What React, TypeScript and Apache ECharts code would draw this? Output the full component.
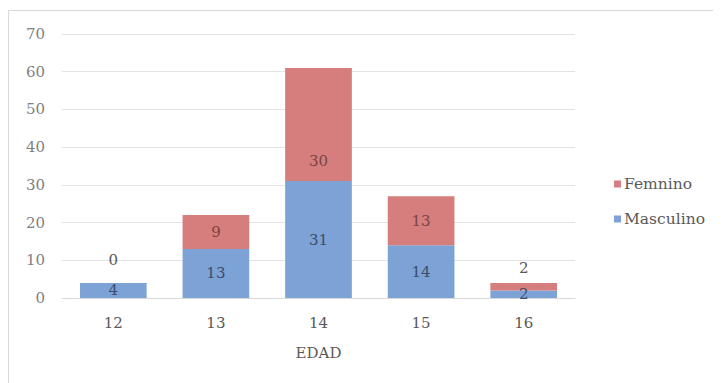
import React, { useEffect, useRef } from "react";
import * as echarts from "echarts";

const categories = ["12", "13", "14", "15", "16"];
const masculino = [4, 13, 31, 14, 2];
const femenino = [0, 9, 30, 13, 2];
const yTicks = [0, 10, 20, 30, 40, 50, 60, 70];

const FONT = "DejaVu Serif";

export default function App() {
  const ref = useRef<HTMLDivElement>(null);
  useEffect(() => {
    if (!ref.current) return;
    const chart = echarts.init(ref.current, null, { renderer: "svg" });
    const femData = femenino.map((v, i) => {
      if (i === 0) return { value: v, label: { position: "top", distance: 15, color: "#595959" } };
      if (i === 2) return { value: v, label: { offset: [0, 36] } };
      if (i === 4) return { value: v, label: { position: "top", distance: 7, color: "#595959" } };
      return v;
    });
    chart.setOption({
      animation: false,
      graphic: [
        {
          type: "rect",
          shape: { x: 0.5, y: 2.5, width: 800, height: 500 },
          style: { fill: "none", stroke: "#d9d9d9", lineWidth: 1 },
          silent: true,
        },
      ],
      grid: { left: 54, right: 146, top: 26, bottom: 85 },
      legend: {
        orient: "vertical",
        left: 601,
        top: 163,
        itemWidth: 7,
        itemHeight: 7,
        itemGap: 19,
        icon: "rect",
        data: ["Femnino", "Masculino"],
        textStyle: { fontFamily: FONT, fontSize: 15.5, color: "#595959", padding: [0, 0, 0, -2] },
      },
      xAxis: {
        type: "category",
        data: categories,
        name: "EDAD",
        nameLocation: "middle",
        nameGap: 47,
        nameTextStyle: { fontFamily: FONT, fontSize: 15, color: "#595959" },
        axisLine: { lineStyle: { color: "#d9d9d9" } },
        axisTick: { show: false },
        axisLabel: { fontFamily: FONT, fontSize: 15, color: "#595959", margin: 17 },
      },
      yAxis: {
        type: "value",
        min: yTicks[0],
        max: yTicks[yTicks.length - 1],
        interval: 10,
        axisLine: { show: false },
        axisTick: { show: false },
        splitLine: { lineStyle: { color: "#e3e3e3" } },
        axisLabel: { fontFamily: FONT, fontSize: 15, color: "#7f7f7f", margin: 17 },
      },
      series: [
        {
          name: "Masculino",
          type: "bar",
          stack: "total",
          data: masculino,
          barWidth: "65%",
          itemStyle: { color: "#7da3d6" },
          label: {
            show: true,
            position: "inside",
            fontFamily: FONT,
            fontSize: 15,
            color: "#3a4d6b",
          },
        },
        {
          name: "Femnino",
          type: "bar",
          stack: "total",
          data: femData,
          barWidth: "65%",
          itemStyle: { color: "#d67e7e" },
          label: {
            show: true,
            position: "inside",
            fontFamily: FONT,
            fontSize: 15,
            color: "#7a4545",
          },
        },
      ],
    });
    return () => chart.dispose();
  }, []);
  return <div ref={ref} style={{ width: 713, height: 375 }} />;
}
